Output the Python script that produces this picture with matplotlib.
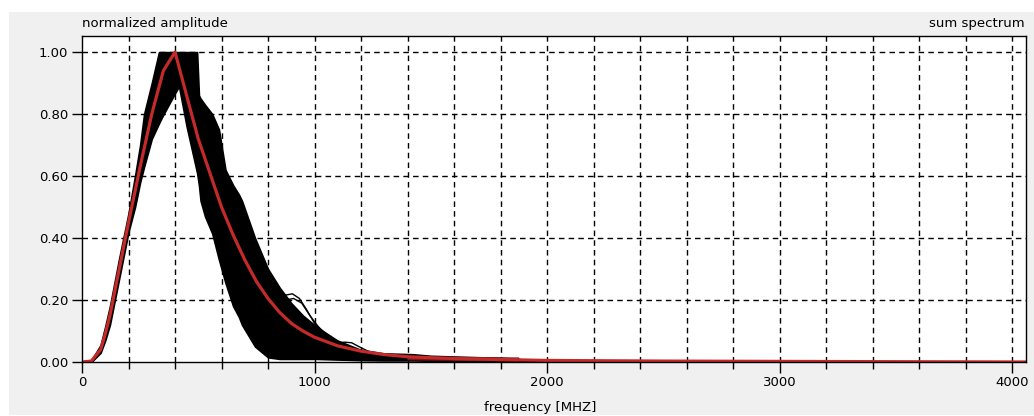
import matplotlib
matplotlib.use("Agg")
import matplotlib.pyplot as plt
from matplotlib.patches import Rectangle

# ---- data ----
# mean (red) spectrum
red_f = [0, 40, 80, 100, 120, 160, 200, 250, 300, 350, 400, 450, 500, 550, 600,
         650, 700, 750, 800, 850, 900, 950, 1000, 1100, 1200, 1300, 1400, 1600,
         1800, 2000, 2500, 3000, 3500, 4060]
red_a = [0.0, 0.003, 0.04, 0.09, 0.15, 0.30, 0.45, 0.63, 0.80, 0.94, 1.0, 0.86,
         0.72, 0.61, 0.50, 0.41, 0.33, 0.26, 0.205, 0.16, 0.125, 0.10, 0.08,
         0.052, 0.035, 0.024, 0.017, 0.011, 0.008, 0.005, 0.003, 0.002, 0.001, 0.0]

# envelope of the individual (black) spectra
env_f = [0, 40, 80, 100, 120, 160, 200, 228, 250, 267, 300, 331, 344, 380, 417,
         450, 486, 495, 503, 510, 529, 560, 589, 617, 650, 675, 688, 744, 800,
         850, 900, 950, 1010, 1097, 1196, 1295, 1424, 1500, 1670, 1780, 1880,
         1900, 2000, 4060]
env_hi = [0.0, 0.005, 0.055, 0.115, 0.18, 0.335, 0.48, 0.60, 0.70, 0.80, 0.90, 1.0,
          1.0, 1.0, 1.0, 1.0, 1.0, 1.0, 0.86, 0.85, 0.83, 0.80, 0.75, 0.62,
          0.57, 0.54, 0.52, 0.40, 0.30, 0.24, 0.19, 0.15, 0.113, 0.07, 0.04,
          0.028, 0.025, 0.02, 0.016, 0.014, 0.01, 0.006, 0.004, 0.0]
env_lo = [0.0, 0.0, 0.03, 0.07, 0.12, 0.27, 0.42, 0.50, 0.58, 0.63, 0.72, 0.77,
          0.79, 0.84, 0.89, 0.76, 0.64, 0.61, 0.57, 0.52, 0.47, 0.415, 0.33,
          0.255, 0.18, 0.145, 0.12, 0.05, 0.015, 0.01, 0.01, 0.01, 0.01, 0.008,
          0.006, 0.005, 0.005, 0.004, 0.003, 0.002, 0.002, 0.001, 0.001, 0.0]

# a few outlying single spectra
out1_f = [760, 820, 870, 905, 935, 965, 1000, 1050]
out1_a = [0.30, 0.24, 0.215, 0.22, 0.205, 0.17, 0.125, 0.09]
out2_f = [780, 830, 875, 910, 945, 980, 1020]
out2_a = [0.27, 0.215, 0.20, 0.205, 0.19, 0.15, 0.11]
out3_f = [1060, 1100, 1130, 1160, 1190, 1230]
out3_a = [0.07, 0.062, 0.064, 0.062, 0.05, 0.035]

# dark-red overlap trail of low spectra in the tail
trail_f = [1400, 1880]
trail_a = [0.012, 0.008]

x_ticks = [0, 1000, 2000, 3000, 4000]
y_ticks = [0.0, 0.2, 0.4, 0.6, 0.8, 1.0]
y_labels = ["0.00", "0.20", "0.40", "0.60", "0.80", "1.00"]

W, H = 1034, 416
plt.rcParams["font.family"] = ["DejaVu Sans"]
FS = 9.5
fig = plt.figure(figsize=(W / 100, H / 100), dpi=100, facecolor="white")

# grey window background
fig.patches.append(Rectangle((9 / W, (H - 415) / H), (W - 9) / W, (415 - 12) / H,
                             transform=fig.transFigure, facecolor="#f0f0f0",
                             edgecolor="none", zorder=-10))

ax = fig.add_axes([82 / W, (H - 362) / H, (1026 - 82) / W, (362 - 36) / H])
ax.set_facecolor("white")
ax.set_xlim(0, 4060)
ax.set_ylim(0, 1.052)

# grid
grid_kw = dict(color="black", lw=1.0, ls=(0, (4, 3)), zorder=1)
for gx in range(200, 4001, 200):
    ax.axvline(gx, **grid_kw)
for gy in y_ticks[1:]:
    ax.axhline(gy, **grid_kw)

# black band of individual spectra
ax.fill_between(env_f, env_lo, env_hi, color="black", lw=1.2, edgecolor="black", zorder=2)
for f, a in [(out1_f, out1_a), (out2_f, out2_a), (out3_f, out3_a)]:
    ax.plot(f, a, color="black", lw=1.0, zorder=2)
ax.plot(trail_f, trail_a, color="#7a1616", lw=3.0, zorder=2.5, solid_capstyle="butt")

# mean spectrum
ax.plot(red_f, red_a, color="#c42a2a", lw=2.3, zorder=3, solid_capstyle="butt")

# ticks
ax.set_xticks(x_ticks)
ax.set_xticklabels([str(v) for v in x_ticks])
ax.set_xticks(list(range(200, 4001, 200)), minor=True)
ax.set_yticks(y_ticks)
ax.set_yticklabels(y_labels)
ax.tick_params(axis="x", which="major", direction="out", length=8, width=1,
               labelsize=FS, pad=2, colors="black")
ax.tick_params(axis="x", which="minor", direction="out", length=5, width=1)
ax.tick_params(axis="y", which="major", direction="out", length=7, width=1,
               labelsize=FS, pad=3)
for s in ax.spines.values():
    s.set_color("black")
    s.set_linewidth(1.0)
    s.set_zorder(5)

fig.text(82 / W, 1 - 24 / H, "normalized amplitude", fontsize=FS, ha="left", va="center")
fig.text(1025 / W, 1 - 24 / H, "sum spectrum", fontsize=FS, ha="right", va="center")
fig.text(540 / W, 1 - 407 / H, "frequency [MHZ]", fontsize=FS, ha="center", va="center")

fig.savefig("out.png", dpi=100, facecolor=fig.get_facecolor())
